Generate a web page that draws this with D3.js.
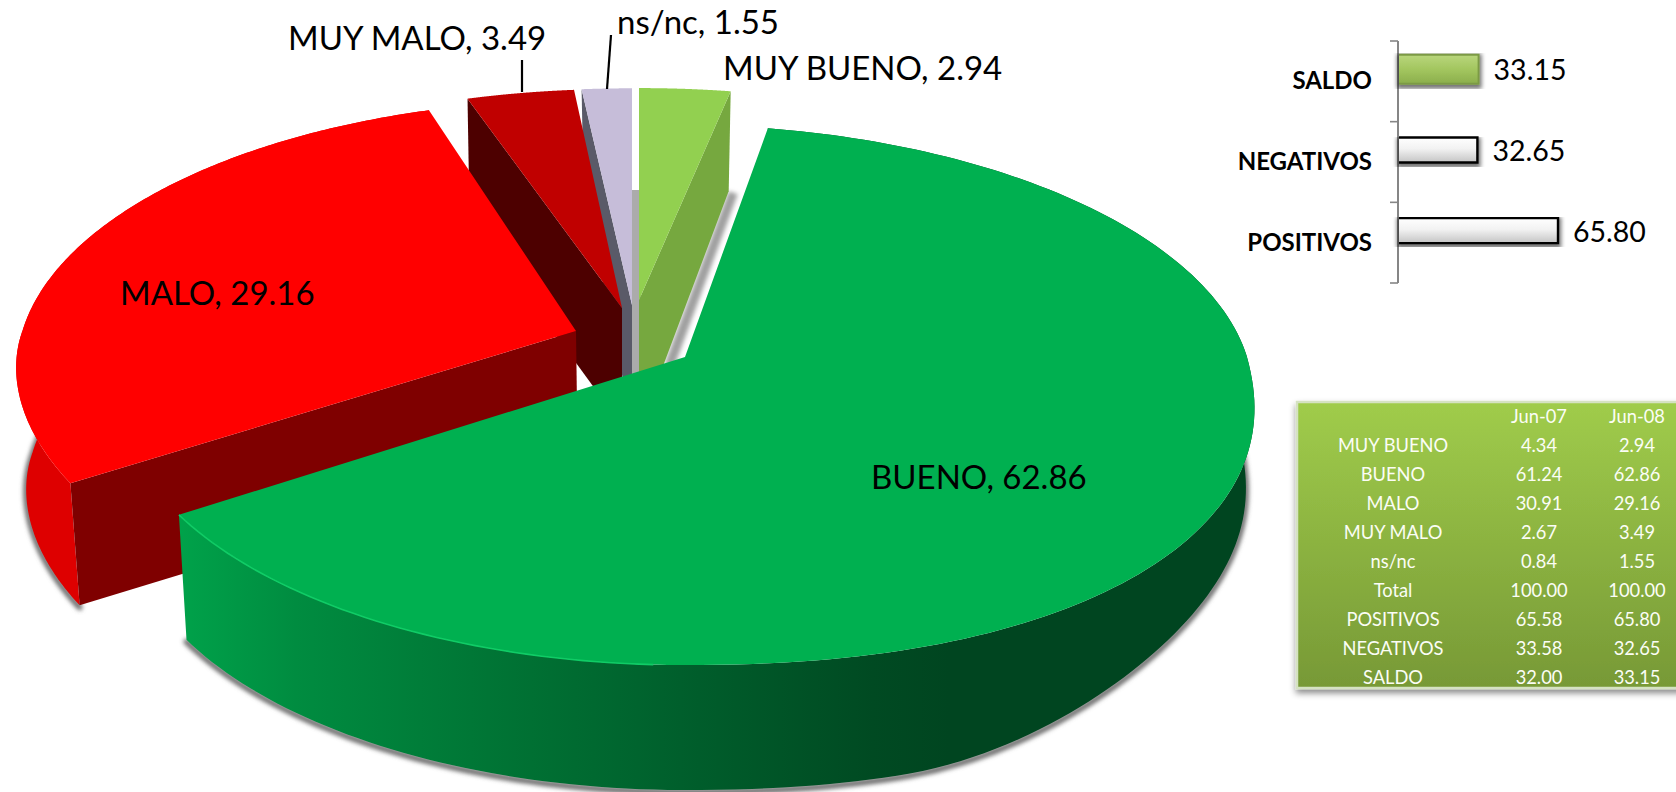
<!DOCTYPE html>
<html><head><meta charset="utf-8">
<script src="https://cdnjs.cloudflare.com/ajax/libs/d3/7.8.5/d3.min.js"></script>
<style>html,body{margin:0;padding:0;background:#fff;overflow:hidden}svg{display:block}text{font-family:Lato,Carlito,sans-serif}</style>
</head><body><svg id="c" width="1676" height="792"></svg>
<script>
// ---- data ----
const rowLabels = ["MUY BUENO","BUENO","MALO","MUY MALO","ns/nc","Total","POSITIVOS","NEGATIVOS","SALDO"];
const jun07 = [4.34,61.24,30.91,2.67,0.84,100.00,65.58,33.58,32.00];
const jun08 = [2.94,62.86,29.16,3.49,1.55,100.00,65.80,32.65,33.15];
const columnHeads = ["Jun-07","Jun-08"];
const pieCategories = rowLabels.slice(0,5);
const pieValues = jun08.slice(0,5);
const barCategories = ["SALDO","NEGATIVOS","POSITIVOS"];
const barValues = [33.15,32.65,65.80];

// ---- layout ----
const svg = d3.select("#c");
const defs = svg.append("defs");
const P = {cx:685, cy:357, Rx:562, Ry:268.6, k:0.128};
const slicePlace = [
 {ax:639,ay:300,sx:1,sy:.89,syf:.89,near:130,far:100,bs:0,fs:0,top:"#92D050",side:"#76A83F"},
 {ax:685,ay:357,sx:1,sy:.975,syf:1,near:125,far:125,bs:-9,fs:0,sq:1,p:.9,top:"#00B050"},
 {ax:576,ay:331,sx:.985,sy:.97,syf:1.03,near:122,far:122,bs:7,fs:-35,sq:-1,p:1.1,top:"#FF0000",side:"#7F0000",rim:"#DE0000"},
 {ax:622,ay:308,sx:.99,sy:.92,syf:.92,near:118,far:118,bs:0,fs:0,top:"#C00000",side:"#4D0000"},
 {ax:632,ay:305,sx:1.04,sy:.91,syf:.91,near:118,far:100,bs:0,fs:0,top:"#C6BDD9",side:"#5A5A68"}
];
const arcs = d3.pie().sort(null).startAngle(0).endAngle(2*Math.PI)(pieValues);
const line = d3.line();

function proj(t,s){
  let X=Math.sin(t),Y=-Math.cos(t);
  const X0=X,Y0=Y;
  if(s.sq && Y>0 && X*s.sq>0){ X=Math.sign(X)*Math.pow(Math.abs(X),s.p); Y=Math.pow(Y,s.p); }
  const w=1-P.k*Y, shear = Y<0 ? s.bs*(-Y) : s.fs*Y;
  return [s.ax+s.sx*P.Rx*X/w+shear, s.ay+(Y<0?s.sy:s.syf)*P.Ry*Y/w, X0, Y0];
}
function down(p,d){ return [p[0]-(p[0]-P.cx)*0.015, p[1]+d]; }
function arcPts(a,s){ const n=180; return d3.range(n+1).map(i=>proj(a.startAngle+(a.endAngle-a.startAngle)*i/n,s)); }

// filters
function shadow(id,dx,dy,b,r,o){
  const f=defs.append("filter").attr("id",id).attr("x","-10%").attr("y","-10%").attr("width","125%").attr("height","125%");
  f.append("feMorphology").attr("in","SourceAlpha").attr("operator","dilate").attr("radius",r).attr("result","m");
  f.append("feGaussianBlur").attr("in","m").attr("stdDeviation",b).attr("result","bl");
  f.append("feOffset").attr("in","bl").attr("dx",dx).attr("dy",dy).attr("result","o");
  f.append("feComponentTransfer").attr("in","o").attr("result","s").append("feFuncA").attr("type","linear").attr("slope",o);
  const m=f.append("feMerge"); m.append("feMergeNode").attr("in","s"); m.append("feMergeNode").attr("in","SourceGraphic");
}
shadow("sh",0,2,2,1.5,.55);
const bl=defs.append("filter").attr("id","soft").attr("x","-20%").attr("y","-20%").attr("width","140%").attr("height","140%");
bl.append("feGaussianBlur").attr("stdDeviation",2);

// green rim gradient
const gg=defs.append("linearGradient").attr("id","rimG").attr("gradientUnits","userSpaceOnUse").attr("x1",180).attr("x2",950).attr("y1",0).attr("y2",0);
[[0,"#00A24A"],[.15,"#008C40"],[.4,"#007535"],[.65,"#005F2C"],[.9,"#004A22"],[1,"#004520"]].forEach(d=>gg.append("stop").attr("offset",d[0]).attr("stop-color",d[1]));

const pieG=svg.append("g");
function greenDepth(X){ const t=Math.max(0,Math.min(1,(X-.3)/.7)); return 125-45*t*t*(3-2*t); }
function drawSlice(i){
  const a=arcs[i],s=slicePlace[i],pts=arcPts(a,s),g=pieG.append("g");
  const apex=[s.ax,s.ay];
  if(i===1||i===2){
    const dep=p=> i===1? greenDepth(p[2]) : s.far;
    const bottom=pts.map(p=>down(p,dep(p)));
    const front=bottom.filter((b,j)=>pts[j][3]>(i===1?-.02:-.1));
    g.append("path").attr("d",line(front)).attr("fill","none").attr("stroke","#6e6e6e").attr("stroke-width",6)
      .attr("stroke-linecap","round").attr("filter","url(#soft)").attr("transform","translate(0,2)");
    g.append("path").attr("d",line(pts.map(p=>[p[0],p[1]]).concat(bottom.slice().reverse()))+"Z").attr("fill",i===1?"url(#rimG)":s.rim);
  }
  if(i===2){ const e=pts[0];
    g.append("path").attr("d",line([apex,[e[0],e[1]],down(e,s.far),down(apex,s.near)])+"Z").attr("fill",s.side);
  }
  if(i===3||i===4){ const q=pts[0];
    g.append("path").attr("d",line([apex,[q[0],q[1]],[q[0]+2,q[1]+s.far],[s.ax,s.ay+s.near]])+"Z").attr("fill",s.side);
  }
  if(i===0){ const q=pts[pts.length-1];
    const foot=[q[0]-2,q[1]+s.far], tip=[s.ax+26,s.ay+63];
    g.append("path").attr("d",line([foot,[foot[0]+9,foot[1]+3],[tip[0]+8,tip[1]+7],tip])+"Z").attr("fill","#a0a0a0").attr("filter","url(#soft)");
    g.append("path").attr("d",line([apex,[q[0],q[1]],foot,[s.ax,s.ay+s.near]])+"Z").attr("fill",s.side);
  }
  g.append("path").attr("d",line([apex].concat(pts.map(p=>[p[0],p[1]])))+"Z").attr("fill",s.top);
  if(i===1){
    const hl=pts.filter(p=>p[0]<660).map(p=>[p[0],p[1]]);
    g.append("path").attr("d",line(hl)).attr("fill","none").attr("stroke","#10CC66").attr("stroke-width",1.6);
  }
}
// gray cast shadow behind the small wedges
pieG.append("path").attr("d",line([[632,190],[641,190],[641,400],[632,400]])+"Z").attr("fill","#ABABAB");
[4,3,2,0,1].forEach(drawSlice);

// leaders
[[[522,60],[522,92]],[[611,35],[607,89]]].forEach(l=>
  svg.append("path").attr("d",line(l)).attr("stroke","#000").attr("stroke-width",2.2).attr("fill","none"));

// pie labels
const labelPlace=[[723,80],[871,489],[120,305],[288,50],[617,34]];
pieCategories.forEach((c,i)=>{
  svg.append("text").attr("x",labelPlace[i][0]).attr("y",labelPlace[i][1]).attr("font-size",33).attr("fill","#000")
    .text(`${c}, ${pieValues[i].toFixed(2)}`);
});

// bar chart
const yB=d3.scaleBand().domain(barCategories).range([41,283]);
const xB=d3.scaleLinear().domain([0,65.8]).range([1398,1558]);
const axisG=svg.append("g");
const axC="#868686";
axisG.append("path").attr("d",line([[1398,41],[1398,283]])).attr("stroke",axC).attr("stroke-width",2).attr("fill","none");
[41,...barCategories.map(c=>yB(c)+yB.bandwidth())].forEach(y=>
  axisG.append("path").attr("d",line([[1390,y],[1398,y]])).attr("stroke",axC).attr("stroke-width",1.6).attr("fill","none"));
const gw=defs.append("linearGradient").attr("id","barW").attr("x1",0).attr("x2",0).attr("y1",0).attr("y2",1);
[[0,"#FFFFFF"],[.45,"#F2F2F2"],[1,"#C4C4C4"]].forEach(d=>gw.append("stop").attr("offset",d[0]).attr("stop-color",d[1]));
const gs=defs.append("linearGradient").attr("id","barG").attr("x1",0).attr("x2",0).attr("y1",0).attr("y2",1);
[[0,"#B9D67C"],[.5,"#A3C65F"],[1,"#8BAE4C"]].forEach(d=>gs.append("stop").attr("offset",d[0]).attr("stop-color",d[1]));
barCategories.forEach((c,i)=>{
  const sal=i===0, h=sal?29:25, mid=yB(c)+yB.bandwidth()/2-12, x0=xB(0)+1, x1=xB(barValues[i]), y0=mid-h/2, y1=mid+h/2;
  const g=svg.append("g").attr("filter","url(#sh)");
  g.append("rect").attr("x",x0).attr("y",y0).attr("width",x1-x0).attr("height",h).attr("fill",sal?"url(#barG)":"url(#barW)");
  g.append("path").attr("d",line([[x0,y0],[x1,y0],[x1,y1],[x0,y1]])).attr("fill","none")
    .attr("stroke",sal?"#7C9A45":"#000").attr("stroke-width",sal?2:2.4);
  svg.append("text").attr("x",1372).attr("y",yB(c)+yB.bandwidth()/2+8).attr("text-anchor","end")
    .attr("font-size",24).attr("font-weight",700).attr("fill","#000").text(c);
  svg.append("text").attr("x",x1+15).attr("y",mid+11).attr("font-size",28.5).attr("fill","#000").text(barValues[i].toFixed(2));
});

// table
const tg=defs.append("linearGradient").attr("id","tbl").attr("x1",0).attr("x2",0).attr("y1",0).attr("y2",1);
[[0,"#A0CC4B"],[1,"#779936"]].forEach(d=>tg.append("stop").attr("offset",d[0]).attr("stop-color",d[1]));
const bs=defs.append("filter").attr("id","tsh").attr("x","-5%").attr("y","-5%").attr("width","110%").attr("height","112%");
bs.append("feDropShadow").attr("dx",0).attr("dy",4).attr("stdDeviation",3).attr("flood-color","#000").attr("flood-opacity",.45);
svg.append("rect").attr("x",1297).attr("y",402).attr("width",400).attr("height",286).attr("fill","url(#tbl)")
  .attr("stroke","#D5E2C2").attr("stroke-width",2.5).attr("filter","url(#tsh)");
const yT=d3.scaleLinear().domain([0,rowLabels.length]).range([423,684]);
const tt=(x,y,s)=>svg.append("text").attr("x",x).attr("y",y).attr("text-anchor","middle").attr("font-size",18.3).attr("fill","#FBFDF5").text(s);
columnHeads.forEach((h,j)=>tt(j?1637:1539,yT(0),h));
rowLabels.forEach((r,i)=>{
  tt(1393,yT(i+1),r); tt(1539,yT(i+1),jun07[i].toFixed(2)); tt(1637,yT(i+1),jun08[i].toFixed(2));
});
</script></body></html>
